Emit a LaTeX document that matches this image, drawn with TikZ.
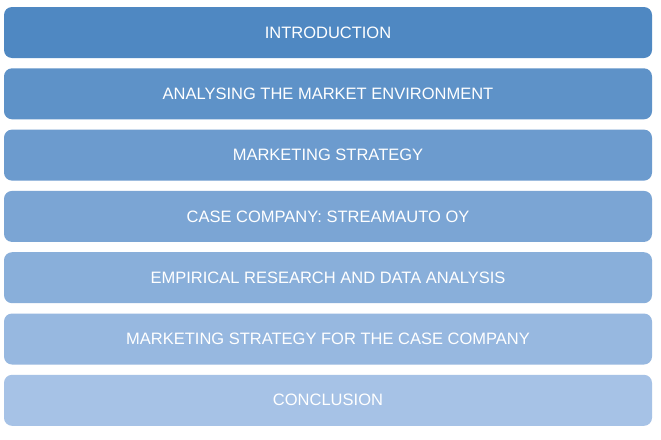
\documentclass[tikz,border=0pt]{standalone}
\usepackage{fontspec}
\setmainfont{Liberation Sans}
\definecolor{topc}{RGB}{79,136,194}
\definecolor{botc}{RGB}{166,194,230}
\tikzset{
  bar/.style={rounded corners=8pt, minimum width=648pt, minimum height=51pt,
    inner sep=0pt, text=white, font=\fontsize{16.5}{19}\selectfont, draw=none}
}
\begin{document}
\begin{tikzpicture}[x=1pt,y=-1pt]
\useasboundingbox[fill=white] (0,0) rectangle (661,439);
\foreach \t [count=\i from 0] in {INTRODUCTION,ANALYSING THE MARKET ENVIRONMENT,MARKETING STRATEGY,CASE COMPANY: STREAMAUTO OY,EMPIRICAL RESEARCH AND DATA ANALYSIS,MARKETING STRATEGY FOR THE CASE COMPANY,CONCLUSION}{
  \pgfmathsetmacro{\p}{100-\i*100/6}
  \node[bar, fill=topc!\p!botc] (b\i) at (328, {32.5+\i*61.3}) {\raisebox{-1pt}{\t}};
}
\end{tikzpicture}
\end{document}
